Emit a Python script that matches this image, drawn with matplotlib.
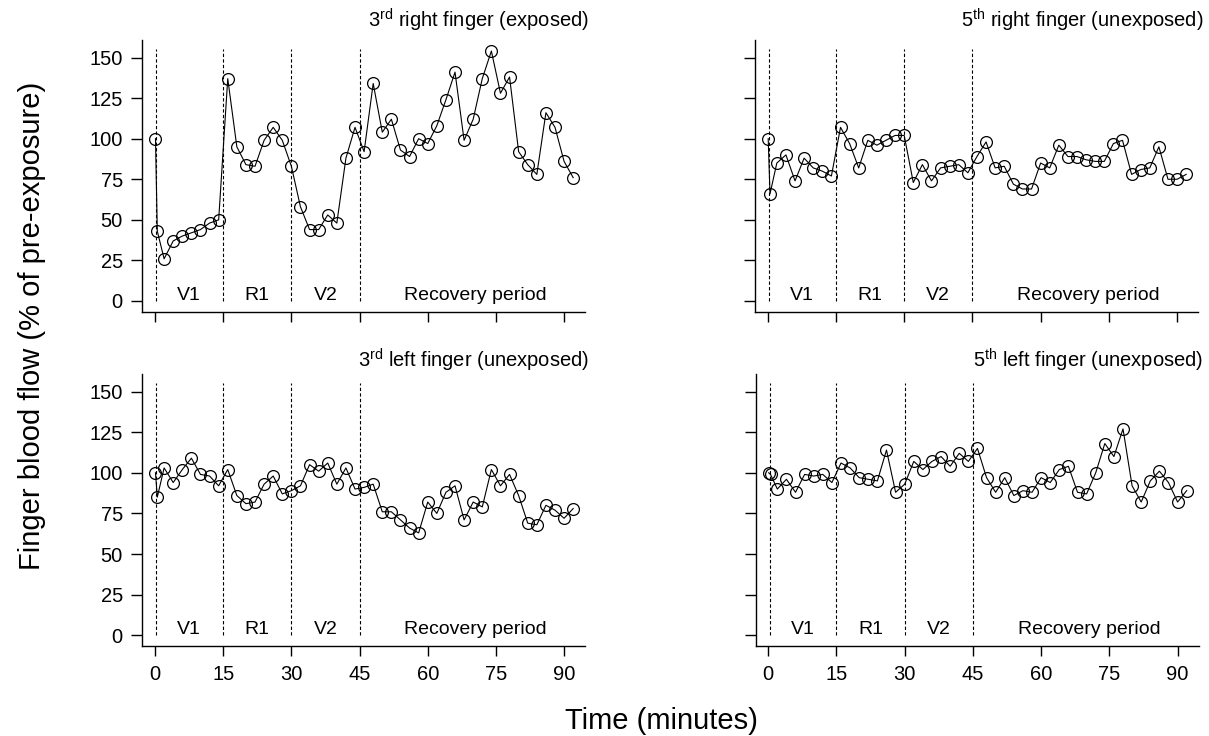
import matplotlib
matplotlib.use("Agg")
import matplotlib.pyplot as plt

plt.rcParams['font.family'] = ['Liberation Sans', 'DejaVu Sans']
plt.rcParams['mathtext.fontset'] = 'custom'
plt.rcParams['mathtext.rm'] = 'Liberation Sans'
plt.rcParams['mathtext.it'] = 'Liberation Sans'

time_min = [0.1, 0.5, 2, 4, 6, 8, 10, 12, 14, 16, 18, 20, 22, 24, 26, 28, 30,
            32, 34, 36, 38, 40, 42, 44, 46, 48, 50, 52, 54, 56, 58, 60, 62,
            64, 66, 68, 70, 72, 74, 76, 78, 80, 82, 84, 86, 88, 90, 92]

right3 = [100, 43, 26, 37, 40, 42, 44, 48, 50, 137, 95, 84, 83, 99, 107, 99, 83,
          58, 44, 44, 53, 48, 88, 107, 92, 134, 104, 112, 93, 89, 100, 97, 108,
          124, 141, 99, 112, 137, 154, 128, 138, 92, 84, 78, 116, 107, 86, 76]
right5 = [100, 66, 85, 90, 74, 88, 82, 80, 77, 107, 97, 82, 99, 96, 99, 102, 102,
          73, 84, 74, 82, 83, 84, 79, 89, 98, 82, 83, 72, 69, 69, 85, 82,
          96, 89, 89, 87, 86, 86, 97, 99, 78, 81, 82, 95, 75, 75, 78]
left3 = [100, 85, 103, 94, 102, 109, 99, 98, 92, 102, 86, 81, 82, 93, 98, 87, 89,
         92, 105, 101, 106, 93, 103, 90, 91, 93, 76, 76, 71, 66, 63, 82, 75,
         88, 92, 71, 82, 79, 102, 92, 99, 86, 69, 68, 80, 77, 72, 78]
left5 = [100, 99, 90, 96, 88, 99, 98, 99, 94, 106, 103, 97, 96, 95, 114, 88, 93,
         107, 102, 107, 110, 104, 112, 107, 115, 97, 88, 97, 86, 89, 88, 97, 94,
         102, 104, 88, 87, 100, 118, 110, 127, 92, 82, 95, 101, 94, 82, 89]

titles = ["3$^{\\mathrm{rd}}$ right finger (exposed)",
          "5$^{\\mathrm{th}}$ right finger (unexposed)",
          "3$^{\\mathrm{rd}}$ left finger (unexposed)",
          "5$^{\\mathrm{th}}$ left finger (unexposed)"]
series = [right3, right5, left3, left5]

period_bounds = [0.3, 15, 30, 45]
period_labels = ["V1", "R1", "V2", "Recovery period"]
period_centers = [7.5, 22.5, 37.5, 70.5]
x_ticks = [0, 15, 30, 45, 60, 75, 90]
y_ticks = [0, 25, 50, 75, 100, 125, 150]

W, H = 1209, 736
fig = plt.figure(figsize=(W / 100, H / 100), dpi=100)

# axes rectangles in pixels: left, top, right, bottom
rects = [(142.3, 40, 585, 311.7), (755, 40, 1198, 311.7),
         (142.3, 374, 585, 646), (755.5, 374, 1198.5, 646)]
title_pos = [(589, 20), (1203, 20), (589, 360), (1203, 360)]

for i, (l, t, r, b) in enumerate(rects):
    ax = fig.add_axes([l / W, 1 - b / H, (r - l) / W, (b - t) / H])
    ax.plot(time_min, series[i], color='black', lw=0.8, marker='o',
            markersize=8.5, markerfacecolor='none', markeredgewidth=0.9)
    for xb in period_bounds:
        ax.plot([xb, xb], [0, 155], color='black', lw=0.8, ls=(0, (3, 2)))
    for lab, xc in zip(period_labels, period_centers):
        ax.text(xc, 3.5, lab, ha='center', va='center', fontsize=14)
    ax.set_xlim(-2.8, 94.6)
    ax.set_ylim(-6.6, 160.8)
    ax.set_xticks(x_ticks)
    ax.set_yticks(y_ticks)
    for s in ['top', 'right']:
        ax.spines[s].set_visible(False)
    for s in ['left', 'bottom']:
        ax.spines[s].set_linewidth(1.0)
    ax.tick_params(axis='y', length=8, width=1.0, labelsize=14.5, pad=6)
    ax.tick_params(axis='x', length=7.5, width=1.0, labelsize=14.5, pad=6)
    if i in (0, 1):
        ax.set_xticklabels([])
    if i in (1, 3):
        ax.set_yticklabels([])
    tx, ty = title_pos[i]
    fig.text(tx / W, 1 - ty / H, titles[i], ha='right', va='center', fontsize=14.5)

fig.text(32 / W, 1 - 326 / H, "Finger blood flow (% of pre-exposure)", rotation=90,
         ha='center', va='center', fontsize=21)
fig.text(661 / W, 1 - 721 / H, "Time (minutes)", ha='center', va='center', fontsize=21)

fig.savefig("out.png", dpi=100)
